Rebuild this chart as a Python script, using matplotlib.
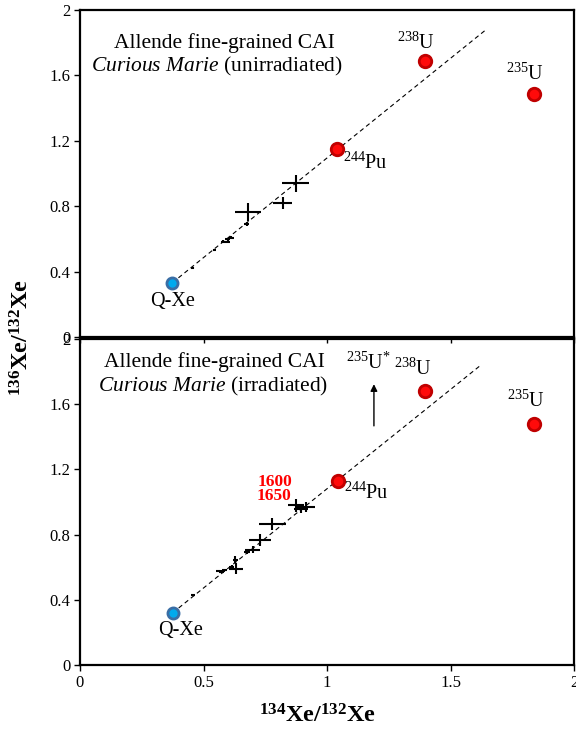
import matplotlib
matplotlib.use("Agg")
import matplotlib.pyplot as plt
from matplotlib.ticker import FuncFormatter

plt.rcParams['font.family'] = ['Liberation Serif', 'DejaVu Serif']
plt.rcParams['mathtext.fontset'] = 'custom'
plt.rcParams['mathtext.rm'] = 'Liberation Serif'
plt.rcParams['mathtext.it'] = 'Liberation Serif:italic'
plt.rcParams['mathtext.bf'] = 'Liberation Serif:bold'

# end-member compositions (134Xe/132Xe, 136Xe/132Xe)
qxe_top = (0.374, 0.332)
qxe_bot = (0.375, 0.320)
pu_top = (1.042, 1.148)
pu_bot = (1.045, 1.131)
u238_top = (1.397, 1.688)
u238_bot = (1.397, 1.682)
u235_top = (1.838, 1.486)
u235_bot = (1.838, 1.478)

# mixing lines
line_top_x = [0.374, 1.640]
line_top_y = [0.332, 1.875]
line_bot_x = [0.375, 1.623]
line_bot_y = [0.320, 1.840]

# unirradiated step data
top_x = [0.873, 0.820, 0.681, 0.675, 0.611, 0.598, 0.580, 0.600, 0.543, 0.456]
top_y = [0.940, 0.821, 0.766, 0.691, 0.608, 0.598, 0.583, 0.580, 0.532, 0.424]
top_xerr = [0.055, 0.040, 0.052, 0.010, 0.012, 0.010, 0.010, 0.008, 0.006, 0.006]
top_yerr = [0.051, 0.038, 0.056, 0.012, 0.010, 0.010, 0.010, 0.008, 0.006, 0.006]

# irradiated step data
bot_x = [0.875, 0.915, 0.895, 0.779, 0.729, 0.699, 0.675, 0.632, 0.628, 0.614,
         0.585, 0.572, 0.560, 0.459]
bot_y = [0.980, 0.968, 0.955, 0.867, 0.765, 0.708, 0.693, 0.591, 0.646, 0.601,
         0.580, 0.572, 0.577, 0.428]
bot_xerr = [0.033, 0.035, 0.030, 0.054, 0.045, 0.030, 0.012, 0.027, 0.010, 0.010,
            0.010, 0.010, 0.008, 0.008]
bot_yerr = [0.040, 0.030, 0.020, 0.036, 0.037, 0.020, 0.010, 0.033, 0.020, 0.010,
            0.010, 0.010, 0.008, 0.006]

ticks = [0, 0.4, 0.8, 1.2, 1.6, 2]
xticks = [0, 0.5, 1, 1.5, 2]

fig = plt.figure(figsize=(5.76, 7.31), dpi=100)
ax2 = fig.add_axes([80/576, 1-665/731, 494/576, 326/731])
ax1 = fig.add_axes([80/576, 1-337/731, 494/576, 327/731])
ax1.patch.set_visible(False)

fmt = FuncFormatter(lambda v, p: "%g" % v)


def setup(ax):
    ax.set_xlim(0, 2)
    ax.set_ylim(0, 2)
    ax.set_xticks(xticks)
    ax.set_yticks(ticks)
    ax.xaxis.set_major_formatter(fmt)
    ax.yaxis.set_major_formatter(fmt)
    for s in ax.spines.values():
        s.set_linewidth(1.6)
    ax.tick_params(direction='out', length=4, width=1, labelsize=12, pad=3)


def draw(ax, xs, ys, xe, ye, lx, ly, qxe, pu, u8, u5):
    ax.plot(lx, ly, color='black', ls=(0, (4, 3)), lw=0.8, zorder=1)
    ax.errorbar(xs, ys, xerr=xe, yerr=ye, fmt='none', ecolor='black',
                elinewidth=1.5, capsize=0, zorder=2)
    for p in (pu, u8, u5):
        ax.plot(p[0], p[1], 'o', ms=9, mfc='#ff0a0a', mec='#c00000', mew=2, zorder=3)
    ax.plot(qxe[0], qxe[1], 'o', ms=8, mfc='#00aaee', mec='#3a6ea5', mew=2, zorder=3)


setup(ax1)
setup(ax2)
ax1.tick_params(labelbottom=False)

draw(ax1, top_x, top_y, top_xerr, top_yerr, line_top_x, line_top_y,
     qxe_top, pu_top, u238_top, u235_top)
draw(ax2, bot_x, bot_y, bot_xerr, bot_yerr, line_bot_x, line_bot_y,
     qxe_bot, pu_bot, u238_bot, u235_bot)

ax1.text(0.585, 1.80, "Allende fine-grained CAI", fontsize=15.5, ha='center', va='center')
ax1.text(0.555, 1.655, r"$\mathit{Curious\ Marie}$ (unirradiated)", fontsize=15.5,
         ha='center', va='center')
ax2.text(0.545, 1.86, "Allende fine-grained CAI", fontsize=15.5, ha='center', va='center')
ax2.text(0.54, 1.71, r"$\mathit{Curious\ Marie}$ (irradiated)", fontsize=15.5,
         ha='center', va='center')

lab = dict(fontsize=14.5, ha='center', va='center')
ax1.text(1.359, 1.80, r"$^{238}$U", **lab)
ax1.text(1.802, 1.609, r"$^{235}$U", **lab)
ax1.text(1.154, 1.066, r"$^{244}$Pu", **lab)
ax1.text(0.374, 0.216, "Q-Xe", **lab)

ax2.text(1.348, 1.817, r"$^{238}$U", **lab)
ax2.text(1.806, 1.621, r"$^{235}$U", **lab)
ax2.text(1.158, 1.052, r"$^{244}$Pu", **lab)
ax2.text(0.407, 0.214, "Q-Xe", **lab)
ax2.text(1.166, 1.853, r"$^{235}$U$^{*}$", **lab)
ax2.annotate("", xy=(1.19, 1.74), xytext=(1.19, 1.45),
             arrowprops=dict(arrowstyle='-|>', color='black', lw=1, mutation_scale=10))

ax2.text(0.79, 1.125, "1600", color='#ff0000', fontsize=12.5, fontweight='bold',
         ha='center', va='center')
ax2.text(0.784, 1.037, "1650", color='#ff0000', fontsize=12.5, fontweight='bold',
         ha='center', va='center')

fig.text(318/576, 1-716/731, r"$\mathbf{^{134}Xe/^{132}Xe}$", fontsize=17.5,
         ha='center', va='center')
fig.text(22/576, 1-337/731, r"$\mathbf{^{136}Xe/^{132}Xe}$", fontsize=17.5,
         ha='center', va='center', rotation=90)

fig.savefig("out.png", dpi=100)
